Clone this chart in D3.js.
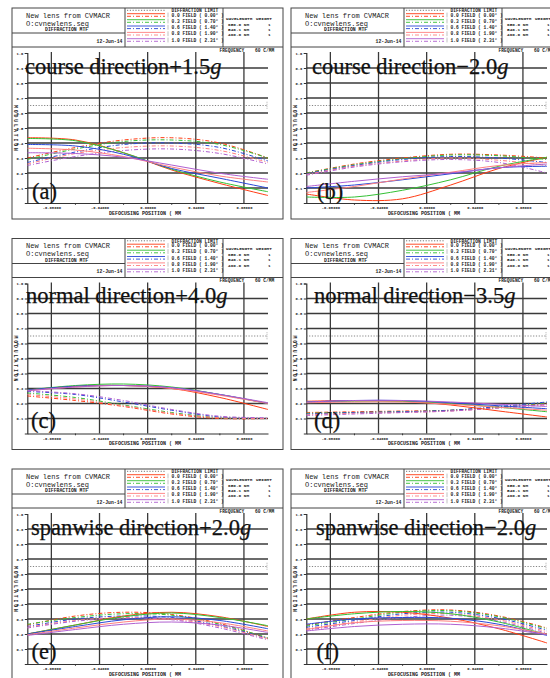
<!DOCTYPE html>
<html>
<head>
<meta charset="utf-8">
<title>Through-focus MTF</title>
<script src="https://d3js.org/d3.v7.min.js"></script>
<style>
  body { margin: 0; background: #fff; }
  svg { display: block; }
  .mono { font-family: "Liberation Mono", "DejaVu Sans Mono", monospace; fill: #222; }
  .bold { font-weight: bold; }
  .big { font-family: "Liberation Serif", serif; fill: #111; font-size: 22.5px; stroke: #111; stroke-width: 0.25px; }
</style>
</head>
<body>
<svg id="chart" width="550" height="678"></svg>

<script>

// Defocus positions (mm) where curves were read
const defocus = [-0.1, -0.06, -0.02, 0.02, 0.06, 0.1];
const xGrid = [-0.08, -0.04, 0, 0.04, 0.08];
const xMinor = [-0.06, -0.02, 0.02, 0.06];
const yTicks = [0.1, 0.2, 0.3, 0.4, 0.5, 0.6, 0.7, 0.8, 0.9, 1.0];

const fieldLabels = ["0.0 FIELD ( 0.00\u00b0 )", "0.3 FIELD ( 0.70\u00b0 )", "0.6 FIELD ( 1.40\u00b0 )",
  "0.8 FIELD ( 1.90\u00b0 )", "1.0 FIELD ( 2.31\u00b0 )"];
const wavelengths = ["650.0 NM", "546.1 NM", "460.0 NM"];
const weights = [1, 1, 1];
const diffractionLimit = 0.65;

const panelTitles = ["course direction+1.5", "course direction\u22122.0", "normal direction+4.0",
  "normal direction\u22123.5", "spanwise direction+2.0", "spanwise direction\u22122.0"];
const panelTags = ["(a)", "(b)", "(c)", "(d)", "(e)", "(f)"];

// Tangential (solid) and sagittal (dashed) MTF, one row per field
const courseUpTan = [
  [0.435, 0.42, 0.335, 0.22, 0.13, 0.05],
  [0.43, 0.415, 0.335, 0.225, 0.14, 0.075],
  [0.39, 0.38, 0.325, 0.23, 0.165, 0.10],
  [0.365, 0.353, 0.31, 0.24, 0.18, 0.14],
  [0.335, 0.33, 0.305, 0.253, 0.198, 0.158]];
const courseUpSag = [
  [0.30, 0.37, 0.42, 0.435, 0.40, 0.30],
  [0.29, 0.36, 0.41, 0.42, 0.39, 0.30],
  [0.27, 0.34, 0.39, 0.40, 0.37, 0.28],
  [0.26, 0.33, 0.37, 0.38, 0.35, 0.27],
  [0.25, 0.31, 0.35, 0.36, 0.33, 0.26]];

const courseDownTan = [
  [0.06, 0.02, 0.028, 0.12, 0.23, 0.305],
  [0.04, 0.04, 0.085, 0.155, 0.245, 0.305],
  [0.10, 0.12, 0.155, 0.195, 0.235, 0.245],
  [0.07, 0.11, 0.16, 0.205, 0.25, 0.27],
  [0.11, 0.145, 0.175, 0.20, 0.235, 0.26]];
const courseDownSag = [
  [0.20, 0.26, 0.30, 0.325, 0.32, 0.30],
  [0.20, 0.255, 0.295, 0.32, 0.315, 0.29],
  [0.195, 0.25, 0.29, 0.31, 0.30, 0.27],
  [0.19, 0.245, 0.28, 0.30, 0.285, 0.25],
  [0.185, 0.24, 0.275, 0.29, 0.27, 0.20]];

const normalUpTan = [
  [0.29, 0.315, 0.32, 0.30, 0.24, 0.16],
  [0.29, 0.32, 0.33, 0.31, 0.26, 0.20],
  [0.29, 0.315, 0.32, 0.305, 0.26, 0.20],
  [0.285, 0.31, 0.32, 0.30, 0.255, 0.20],
  [0.285, 0.31, 0.32, 0.305, 0.26, 0.205]];
const normalUpSag = [
  [0.25, 0.22, 0.18, 0.13, 0.10, 0.10],
  [0.27, 0.24, 0.19, 0.14, 0.105, 0.10],
  [0.28, 0.26, 0.21, 0.155, 0.11, 0.10],
  [0.26, 0.23, 0.185, 0.135, 0.105, 0.10],
  [0.285, 0.265, 0.22, 0.16, 0.115, 0.105]];

const normalDownTan = [
  [0.215, 0.22, 0.215, 0.19, 0.15, 0.11],
  [0.21, 0.215, 0.215, 0.20, 0.175, 0.145],
  [0.21, 0.22, 0.22, 0.205, 0.185, 0.165],
  [0.205, 0.21, 0.21, 0.195, 0.175, 0.155],
  [0.21, 0.22, 0.22, 0.21, 0.195, 0.18]];
const normalDownSag = [
  [0.14, 0.145, 0.15, 0.155, 0.175, 0.20],
  [0.135, 0.14, 0.145, 0.155, 0.175, 0.205],
  [0.13, 0.14, 0.145, 0.155, 0.18, 0.21],
  [0.125, 0.135, 0.14, 0.15, 0.17, 0.19],
  [0.12, 0.13, 0.14, 0.15, 0.17, 0.195]];

const spanUpTan = [
  [0.20, 0.26, 0.32, 0.345, 0.315, 0.25],
  [0.20, 0.26, 0.315, 0.34, 0.31, 0.255],
  [0.20, 0.25, 0.295, 0.315, 0.29, 0.235],
  [0.195, 0.24, 0.28, 0.30, 0.275, 0.22],
  [0.19, 0.23, 0.265, 0.28, 0.26, 0.21]];
const spanUpSag = [
  [0.26, 0.32, 0.345, 0.33, 0.27, 0.17],
  [0.265, 0.31, 0.335, 0.325, 0.265, 0.175],
  [0.25, 0.30, 0.32, 0.31, 0.255, 0.17],
  [0.245, 0.29, 0.31, 0.30, 0.25, 0.165],
  [0.24, 0.285, 0.305, 0.295, 0.24, 0.16]];

const spanDownTan = [
  [0.30, 0.345, 0.345, 0.305, 0.235, 0.14],
  [0.30, 0.335, 0.35, 0.335, 0.28, 0.195],
  [0.265, 0.30, 0.31, 0.305, 0.265, 0.19],
  [0.23, 0.275, 0.29, 0.285, 0.255, 0.20],
  [0.22, 0.25, 0.265, 0.265, 0.24, 0.195]];
const spanDownSag = [
  [0.26, 0.31, 0.35, 0.36, 0.32, 0.24],
  [0.255, 0.30, 0.345, 0.355, 0.315, 0.235],
  [0.245, 0.29, 0.335, 0.345, 0.305, 0.225],
  [0.235, 0.28, 0.325, 0.335, 0.295, 0.215],
  [0.225, 0.27, 0.31, 0.325, 0.285, 0.205]];

const panelTan = [courseUpTan, courseDownTan, normalUpTan, normalDownTan, spanUpTan, spanDownTan];
const panelSag = [courseUpSag, courseDownSag, normalUpSag, normalDownSag, spanUpSag, spanDownSag];

// Styles and layout
const fieldColors = ["#ff3c14", "#34c034", "#2a48d6", "#ff7f7f", "#b060d0"];
const panelX = [12, 291];
const panelY = [8, 238.5, 469];
const titlePos = [[13, 66], [21, 66], [14, 64.5], [23, 64.5], [19, 65.5], [25, 65.5]];
const tagPos = [[20, 191], [26, 191], [19, 189], [23, 189], [19.5, 190], [25.5, 190]];

const PW = 271, PH = 211;
const plotL = 15.3, plotR = 256, plotT = 45, plotB = 195;

const x = d3.scaleLinear().domain([-0.1, 0.1]).range([plotL, plotR]);
const y = d3.scaleLinear().domain([0, 1]).range([plotB, plotT]);

const fmtX = d3.formatLocale({decimal: ".", thousands: ",", grouping: [3], currency: ["", ""], minus: "-"}).format(".5f");

const svg = d3.select("#chart");

svg.append("defs").append("clipPath")
    .attr("id", "plotClip")
  .append("rect")
    .attr("x", plotL)
    .attr("y", plotT - 5)
    .attr("width", plotR - plotL)
    .attr("height", plotB - plotT + 5);

panelTitles.forEach((title, i) => {
  const g = svg.append("g")
      .attr("transform", "translate(" + panelX[i % 2] + "," + panelY[Math.floor(i / 2)] + ")");
  drawPanel(g, i);
});

function drawPanel(g, i) {
  // Frame and header boxes
  g.append("rect")
      .attr("width", PW)
      .attr("height", PH)
      .attr("fill", "none")
      .attr("stroke", "#444")
      .attr("stroke-width", 1);

  const boxLines = [[0, 39, PW, 39], [0, 25, 113, 25], [113, 0, 113, 39], [211, 0, 211, 39]];
  g.selectAll(".box").data(boxLines).enter().append("line")
      .attr("x1", d => d[0]).attr("y1", d => d[1])
      .attr("x2", d => d[2]).attr("y2", d => d[3])
      .attr("stroke", "#444")
      .attr("stroke-width", 1);

  // Title block
  g.append("text").attr("class", "mono").attr("x", 14).attr("y", 9.5)
      .style("font-size", "7px").text("New lens from CVMACR");
  g.append("text").attr("class", "mono").attr("x", 14).attr("y", 17.5)
      .style("font-size", "7px").text("O:cvnewlens.seq");
  g.append("text").attr("class", "mono bold").attr("x", 33).attr("y", 23)
      .style("font-size", "4.8px").text("DIFFRACTION MTF");
  g.append("text").attr("class", "mono bold").attr("x", 110.5).attr("y", 34.5)
      .attr("text-anchor", "end")
      .style("font-size", "4.8px").text("12-Jun-14");

  // Legend
  g.append("line")
      .attr("x1", 115).attr("x2", 153).attr("y1", 2.3).attr("y2", 2.3)
      .attr("stroke", "#777").attr("stroke-dasharray", "1.2,1.6");
  g.append("text").attr("class", "mono bold").attr("x", 159.5).attr("y", 4)
      .style("font-size", "4.6px").text("DIFFRACTION LIMIT");

  const rowY = [7, 13, 19.3, 25.7, 32];
  fieldLabels.forEach((label, f) => {
    const cy = rowY[f];
    g.append("line")
        .attr("x1", 115).attr("x2", 153).attr("y1", cy - 1.3).attr("y2", cy - 1.3)
        .attr("stroke", fieldColors[f]).attr("stroke-width", 0.9);
    g.append("line")
        .attr("x1", 115).attr("x2", 153).attr("y1", cy + 1.3).attr("y2", cy + 1.3)
        .attr("stroke", fieldColors[f]).attr("stroke-width", 0.9)
        .attr("stroke-dasharray", "4,2,1,2");
    g.append("line")
        .attr("x1", 156).attr("x2", 156).attr("y1", cy - 2.4).attr("y2", cy + 2.4)
        .attr("stroke", "#999").attr("stroke-width", 0.6);
    g.append("text").attr("class", "mono bold").attr("x", 159.5).attr("y", cy + 1.7)
        .style("font-size", "4.6px").text(label);
  });

  // Wavelength block
  g.append("text").attr("class", "mono bold").attr("x", 214).attr("y", 11.5)
      .style("font-size", "4.4px").text("WAVELENGTH");
  g.append("text").attr("class", "mono bold").attr("x", 244).attr("y", 11.5)
      .style("font-size", "4.4px").text("WEIGHT");
  wavelengths.forEach((w, k) => {
    g.append("text").attr("class", "mono bold").attr("x", 216).attr("y", 17.5 + k * 5.4)
        .style("font-size", "4.4px").text(w);
    g.append("text").attr("class", "mono bold").attr("x", 256).attr("y", 17.5 + k * 5.4)
        .style("font-size", "4.4px").text(weights[k]);
  });

  g.append("text").attr("class", "mono bold").attr("x", 207.5).attr("y", 43.6)
      .style("font-size", "4.6px").text("FREQUENCY");
  g.append("text").attr("class", "mono bold").attr("x", 243).attr("y", 43.6)
      .style("font-size", "4.6px").text("60 C/MM");

  // Grid
  g.selectAll(".hgrid").data(yTicks.filter(d => d < 1)).enter().append("line")
      .attr("x1", plotL).attr("x2", plotR)
      .attr("y1", d => y(d)).attr("y2", d => y(d))
      .attr("stroke", "#3a3a3a").attr("stroke-width", 1.3);

  g.selectAll(".vgrid").data(xGrid).enter().append("line")
      .attr("x1", d => x(d)).attr("x2", d => x(d))
      .attr("y1", plotT - 1).attr("y2", plotB)
      .attr("stroke", "#3a3a3a").attr("stroke-width", 1.3);

  // Axes
  const yAxis = g.append("g")
      .attr("transform", "translate(" + plotL + ",0)")
      .call(d3.axisLeft(y).tickValues(yTicks).tickSize(2.5).tickPadding(1.5).tickFormat(d3.format(".1f")));
  yAxis.selectAll("text").attr("class", "mono bold").style("font-size", "3.8px");

  const xAxis = g.append("g")
      .attr("transform", "translate(0," + plotB + ")")
      .call(d3.axisBottom(x).tickValues(xGrid).tickSize(0).tickPadding(3.5).tickFormat(fmtX));
  xAxis.selectAll("text").attr("class", "mono bold").style("font-size", "3.8px");

  [yAxis, xAxis].forEach(ax => {
    ax.select(".domain").attr("stroke", "#333").attr("stroke-width", 1.2);
    ax.selectAll("line").attr("stroke", "#333");
    ax.attr("font-family", null).attr("font-size", null);
  });

  g.selectAll(".minor").data(xMinor).enter().append("line")
      .attr("x1", d => x(d)).attr("x2", d => x(d))
      .attr("y1", plotB).attr("y2", plotB + 1.8)
      .attr("stroke", "#333");

  g.append("text").attr("class", "mono bold")
      .attr("x", 133).attr("y", 206.5)
      .attr("text-anchor", "middle")
      .style("font-size", "5px")
      .text("DEFOCUSING POSITION ( MM");

  g.append("text").attr("class", "mono bold")
      .attr("transform", "translate(1.6,97) rotate(90)")
      .style("font-size", "4.8px")
      .style("letter-spacing", "1.9px")
      .text("MODULATION");

  // Diffraction limit
  g.append("line")
      .attr("x1", plotL).attr("x2", plotR)
      .attr("y1", y(diffractionLimit)).attr("y2", y(diffractionLimit))
      .attr("stroke", "#777").attr("stroke-width", 0.9)
      .attr("stroke-dasharray", "1.2,1.6");
  g.append("line")
      .attr("x1", plotR - 1).attr("x2", plotR - 1)
      .attr("y1", y(diffractionLimit + 0.025)).attr("y2", y(diffractionLimit - 0.025))
      .attr("stroke", "#999").attr("stroke-width", 0.8)
      .attr("stroke-dasharray", "1,1");

  // Curves
  const line = d3.line()
      .x((d, j) => x(defocus[j]))
      .y(d => y(d))
      .curve(d3.curveCatmullRom.alpha(0.5));

  const curves = g.append("g").attr("clip-path", "url(#plotClip)");

  panelSag[i].forEach((vals, f) => {
    curves.append("path")
        .attr("d", line(vals))
        .attr("fill", "none")
        .attr("stroke", fieldColors[f])
        .attr("stroke-width", 1)
        .attr("stroke-dasharray", "4,2,1,2");
  });

  panelTan[i].forEach((vals, f) => {
    curves.append("path")
        .attr("d", line(vals))
        .attr("fill", "none")
        .attr("stroke", fieldColors[f])
        .attr("stroke-width", 1);
  });

  // Overlay annotation
  const t = g.append("text")
      .attr("class", "big")
      .attr("x", titlePos[i][0])
      .attr("y", titlePos[i][1]);
  t.append("tspan").text(panelTitles[i]);
  t.append("tspan").style("font-style", "italic").text("g");

  g.append("text")
      .attr("class", "big")
      .attr("x", tagPos[i][0])
      .attr("y", tagPos[i][1])
      .text(panelTags[i]);
}

</script>
</body>
</html>
